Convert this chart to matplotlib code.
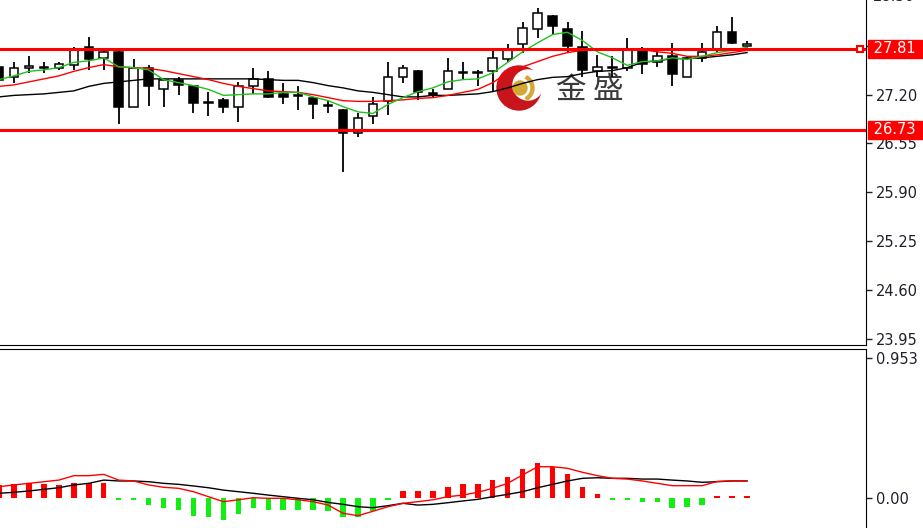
import numpy as np
import matplotlib
matplotlib.use("Agg")
from matplotlib import pyplot as plt
from matplotlib.patches import Circle, Wedge

plt.rcParams['font.family'] = ['DejaVu Sans']

# candles (open, high, low, close)
opens = [27.57, 27.43, 27.56, 27.55, 27.56, 27.60, 27.83, 27.69, 27.77, 27.04,
         27.56, 27.28, 27.39, 27.32, 27.10, 27.13, 27.03, 27.31, 27.41, 27.21,
         27.18, 27.16, 27.05, 27.00, 26.69, 26.91, 27.11, 27.44, 27.51, 27.22,
         27.28, 27.49, 27.49, 27.51, 27.68, 27.88, 28.08, 28.25, 28.08, 27.83,
         27.52, 27.55, 27.56, 27.80, 27.63, 27.71, 27.44, 27.69, 27.80, 28.03,
         27.85]
highs = [27.64, 27.63, 27.71, 27.63, 27.64, 27.83, 27.97, 27.81, 27.78, 27.68,
         27.59, 27.41, 27.43, 27.33, 27.23, 27.16, 27.37, 27.55, 27.52, 27.35,
         27.32, 27.17, 27.13, 27.01, 26.96, 27.17, 27.63, 27.59, 27.53, 27.27,
         27.69, 27.64, 27.53, 27.79, 27.88, 28.17, 28.35, 28.26, 28.17, 28.05,
         27.73, 27.72, 27.95, 27.83, 27.81, 27.89, 27.72, 27.89, 28.11, 28.23,
         27.91]
lows = [27.36, 27.36, 27.49, 27.49, 27.53, 27.53, 27.53, 27.53, 26.81, 27.03,
        27.05, 27.04, 27.20, 26.95, 26.91, 26.96, 26.84, 27.21, 27.16, 27.08,
        27.00, 26.87, 26.96, 26.17, 26.64, 26.81, 26.93, 27.36, 27.13, 27.16,
        27.27, 27.41, 27.31, 27.25, 27.64, 27.76, 27.96, 27.99, 27.77, 27.44,
        27.44, 27.44, 27.51, 27.48, 27.57, 27.31, 27.44, 27.63, 27.77, 27.87,
        27.80]
closes = [27.40, 27.56, 27.58, 27.56, 27.61, 27.81, 27.67, 27.77, 27.04, 27.56,
          27.31, 27.40, 27.33, 27.09, 27.09, 27.04, 27.31, 27.41, 27.17, 27.17,
          27.19, 27.07, 27.06, 26.69, 26.89, 27.08, 27.43, 27.56, 27.24, 27.20,
          27.51, 27.50, 27.50, 27.69, 27.81, 28.09, 28.29, 28.11, 27.85, 27.53,
          27.57, 27.56, 27.81, 27.61, 27.72, 27.47, 27.69, 27.77, 28.03, 27.89,
          27.87]

ma_fast = [27.40, 27.45, 27.51, 27.53, 27.56, 27.63, 27.65, 27.69, 27.57, 27.56,
           27.53, 27.40, 27.36, 27.32, 27.27, 27.19, 27.20, 27.21, 27.21, 27.23,
           27.23, 27.17, 27.12, 27.04, 26.97, 26.95, 27.07, 27.16, 27.24, 27.29,
           27.37, 27.40, 27.41, 27.49, 27.63, 27.77, 27.89, 28.00, 28.03, 27.92,
           27.77, 27.69, 27.59, 27.64, 27.65, 27.69, 27.67, 27.71, 27.76, 27.79,
           27.83]
ma_mid = [27.31, 27.33, 27.37, 27.41, 27.45, 27.51, 27.56, 27.60, 27.57, 27.56,
          27.55, 27.52, 27.48, 27.44, 27.40, 27.35, 27.31, 27.28, 27.25, 27.24,
          27.23, 27.20, 27.16, 27.12, 27.11, 27.11, 27.12, 27.13, 27.15, 27.16,
          27.19, 27.23, 27.27, 27.36, 27.49, 27.57, 27.64, 27.71, 27.76, 27.79,
          27.80, 27.81, 27.80, 27.80, 27.77, 27.75, 27.71, 27.71, 27.73, 27.76,
          27.79]
ma_slow = [27.17, 27.19, 27.20, 27.21, 27.23, 27.25, 27.31, 27.35, 27.37, 27.39,
           27.41, 27.41, 27.41, 27.41, 27.41, 27.41, 27.41, 27.41, 27.40, 27.39,
           27.39, 27.36, 27.32, 27.29, 27.25, 27.23, 27.20, 27.17, 27.17, 27.19,
           27.19, 27.20, 27.21, 27.24, 27.29, 27.35, 27.40, 27.43, 27.44, 27.48,
           27.51, 27.52, 27.56, 27.63, 27.65, 27.68, 27.68, 27.69, 27.71, 27.73,
           27.76]

# MACD panel
hist = [0.086, 0.095, 0.102, 0.095, 0.086, 0.102, 0.102, 0.102, -0.012, -0.012,
        -0.045, -0.070, -0.080, -0.120, -0.130, -0.150, -0.110, -0.070, -0.080, -0.080,
        -0.080, -0.080, -0.090, -0.130, -0.130, -0.085, -0.012, 0.048, 0.048, 0.048,
        0.077, 0.093, 0.093, 0.122, 0.145, 0.197, 0.236, 0.213, 0.161, 0.077,
        0.025, -0.012, -0.012, -0.030, -0.030, -0.070, -0.060, -0.050, 0.012, 0.012,
        0.012]
macd_red = [0.077, 0.089, 0.100, 0.111, 0.122, 0.152, 0.152, 0.161, 0.122, 0.116,
            0.089, 0.073, 0.066, 0.043, 0.009, -0.025, -0.012, 0.002, -0.002, -0.002,
            -0.012, -0.025, -0.048, -0.104, -0.120, -0.090, -0.059, -0.036, -0.025, -0.012,
            0.009, 0.020, 0.039, 0.066, 0.100, 0.157, 0.213, 0.213, 0.202, 0.175,
            0.152, 0.134, 0.129, 0.116, 0.100, 0.084, 0.084, 0.084, 0.113, 0.117,
            0.118]
macd_black = [0.032, 0.039, 0.048, 0.059, 0.070, 0.089, 0.100, 0.122, 0.116, 0.116,
              0.111, 0.100, 0.093, 0.082, 0.070, 0.054, 0.043, 0.032, 0.020, 0.009,
              -0.002, -0.012, -0.030, -0.043, -0.059, -0.066, -0.052, -0.036, -0.048, -0.043,
              -0.032, -0.020, -0.009, 0.009, 0.025, 0.043, 0.070, 0.093, 0.116, 0.134,
              0.138, 0.134, 0.134, 0.129, 0.129, 0.122, 0.116, 0.107, 0.111, 0.116,
              0.116]

levels = [27.81, 26.73]
price_ticks = [23.95, 24.60, 25.25, 25.90, 26.55, 27.20, 27.85]
macd_ticks = [0.0, 0.953]

TXT = '#20202c'
RED = '#ff0000'

W, H = 923, 528
fig = plt.figure(figsize=(W / 100, H / 100), dpi=100)

# watermark layer in pixel coordinates
bg = fig.add_axes([0, 0, 1, 1], zorder=0)
bg.set_xlim(0, W)
bg.set_ylim(H, 0)
bg.axis('off')
bg.add_patch(Circle((519, 88), 22, color='#c8141c'))
bg.add_patch(Circle((528, 85), 15, color='white'))
bg.add_patch(Circle((520, 88), 7, color='#d4a832'))
bg.add_patch(Wedge((520, 88), 14, -60, 60, width=3, color='#d4a832'))
bg.text(570, 90, '金', fontsize=22, color='#3a3a3a', ha='center', va='center',
        family=['Noto Sans CJK SC', 'DejaVu Sans'])
bg.text(608, 90, '盛', fontsize=22, color='#3a3a3a', ha='center', va='center',
        family=['Noto Sans CJK SC', 'DejaVu Sans'])

ax = fig.add_axes([0, (H - 345) / H, 866 / W, 345 / H], zorder=2)
ax2 = fig.add_axes([0, 0, 866 / W, 179 / H], zorder=2)
for a in (ax, ax2):
    a.patch.set_alpha(0)

x = np.arange(len(opens))
o = np.array(opens)
c = np.array(closes)

ax.vlines(x, lows, highs, color='black', lw=1.3, zorder=2)
up = c >= o
body_lo = np.minimum(o, c)
body_h = np.maximum(np.abs(c - o), 0.012)
ax.bar(x[up], body_h[up], bottom=body_lo[up], width=0.57, color='white',
       edgecolor='black', lw=1.1, zorder=3)
ax.bar(x[~up], body_h[~up], bottom=body_lo[~up], width=0.57, color='black',
       edgecolor='black', lw=1.1, zorder=3)

ax.plot(x, ma_slow, color='black', lw=1.0, zorder=4)
ax.plot(x, ma_mid, color=RED, lw=1.0, zorder=4)
ax.plot(x, ma_fast, color='#1fc21f', lw=1.0, zorder=4)

for lv in levels:
    ax.axhline(lv, color=RED, lw=2.2, zorder=5)
ax.plot([0.993], [levels[0]], marker='s', ms=5, mfc='white', mec=RED, mew=1.5,
        transform=ax.get_yaxis_transform(), zorder=6, clip_on=False)

ax.set_xlim(0.067, 57.95)
ax.set_ylim(23.867, 28.46)
ax.set_xticks([])
ax.yaxis.tick_right()
ax.set_yticks(price_ticks)
# the 27.85 label sits under the 27.81 price box
ax.set_yticklabels(['' if t == 27.85 else '%.2f' % t for t in price_ticks])
ax.tick_params(axis='y', direction='out', length=4, width=1, pad=3,
               labelsize=10.5, labelcolor=TXT, color=TXT)
ax.annotate('28.50', xy=(1, 28.50), xycoords=ax.get_yaxis_transform(),
            xytext=(5.2, 0), textcoords='offset points', va='center',
            fontsize=10.5, color=TXT, annotation_clip=False)
for lv in levels:
    ax.annotate(' %.2f ' % lv, xy=(1, lv), xycoords=ax.get_yaxis_transform(),
                xytext=(2.2, 0), textcoords='offset points', va='center',
                fontsize=10.5, color='white', annotation_clip=False, zorder=10,
                bbox=dict(boxstyle='square,pad=0.1', fc=RED, ec=RED))

for s in ('left', 'top'):
    ax.spines[s].set_visible(False)
ax.spines['right'].set_color('black')
ax.spines['bottom'].set_color('black')

# MACD
hcol = [RED if v > 0 else '#11ee11' for v in hist]
ax2.bar(x, hist, width=0.37, color=hcol, zorder=2)
ax2.plot(x, macd_black, color='black', lw=1.0, zorder=3)
ax2.plot(x, macd_red, color=RED, lw=1.0, zorder=3)
ax2.set_xlim(0.067, 57.95)
ax2.set_ylim(-0.204, 1.014)
ax2.set_xticks([])
ax2.yaxis.tick_right()
ax2.set_yticks(macd_ticks)
ax2.set_yticklabels(['0.00', '0.953'])
ax2.tick_params(axis='y', direction='out', length=4, width=1, pad=3,
                labelsize=10.5, labelcolor=TXT, color=TXT)
for s in ('left', 'bottom'):
    ax2.spines[s].set_visible(False)

fig.savefig('out.png', dpi=100)
